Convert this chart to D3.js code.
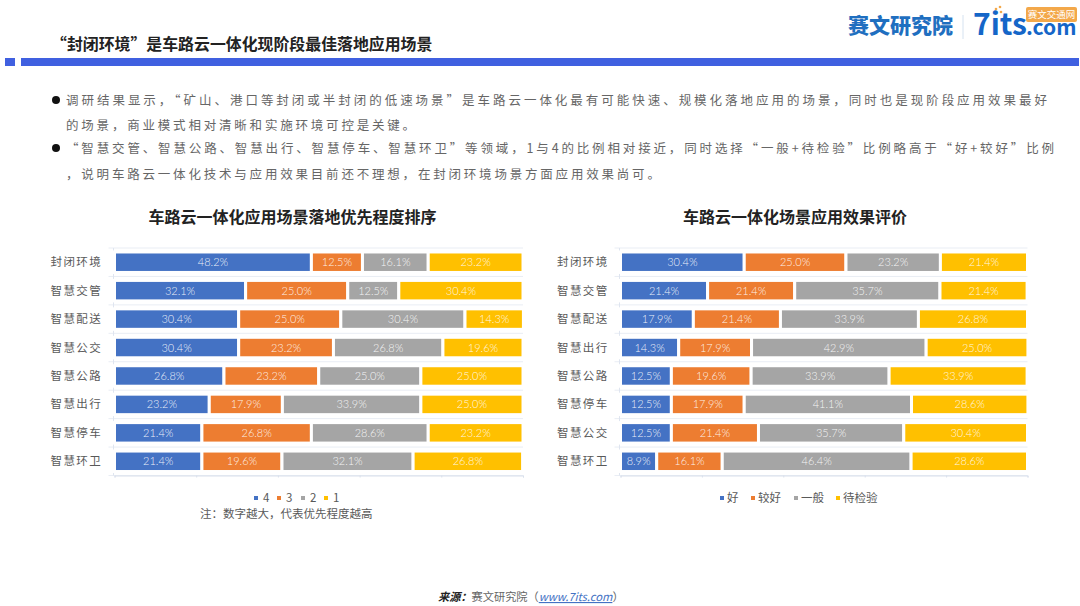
<!DOCTYPE html>
<html>
<head>
<meta charset="utf-8">
<script src="https://cdn.jsdelivr.net/npm/d3@7"></script>
<style>
html,body{margin:0;padding:0;background:#fff;}
svg{display:block;}
text{font-family:"Noto Sans CJK SC","Noto Sans",sans-serif;}
.pct{font-family:Lato,"Open Sans",sans-serif;font-size:11px;font-weight:300;fill:#fff;fill-opacity:.9;text-anchor:middle;}
.cat{font-size:11.5px;fill:#595959;letter-spacing:1.4px;}
.legend{font-size:11.5px;fill:#595959;}
.body{font-size:12.5px;fill:#666;}
.chartTitle{font-size:16px;font-weight:700;fill:#222;text-anchor:middle;}
</style>
</head>
<body>
<svg id="fig" width="1080" height="606"></svg>
<script>
const colors = ["#4472C4","#ED7D31","#A5A5A5","#FFC000"]

// left chart
const leftTitle = "车路云一体化应用场景落地优先程度排序"
const leftCats = ["封闭环境","智慧交管","智慧配送","智慧公交","智慧公路","智慧出行","智慧停车","智慧环卫"]
const leftKeys = ["4","3","2","1"]
const left4 = [48.2,32.1,30.4,30.4,26.8,23.2,21.4,21.4]
const left3 = [12.5,25.0,25.0,23.2,23.2,17.9,26.8,19.6]
const left2 = [16.1,12.5,30.4,26.8,25.0,33.9,28.6,32.1]
const left1 = [23.2,30.4,14.3,19.6,25.0,25.0,23.2,26.8]

// right chart
const rightTitle = "车路云一体化场景应用效果评价"
const rightCats = ["封闭环境","智慧交管","智慧配送","智慧出行","智慧公路","智慧停车","智慧公交","智慧环卫"]
const rightKeys = ["好","较好","一般","待检验"]
const rightGood = [30.4,21.4,17.9,14.3,12.5,12.5,12.5,8.9]
const rightFair = [25.0,21.4,21.4,17.9,19.6,17.9,21.4,16.1]
const rightAvg = [23.2,35.7,33.9,42.9,33.9,41.1,35.7,46.4]
const rightWait = [21.4,21.4,26.8,25.0,33.9,28.6,30.4,28.6]

const bodyLines = [
    "调研结果显示，“矿山、港口等封闭或半封闭的低速场景”是车路云一体化最有可能快速、规模化落地应用的场景，同时也是现阶段应用效果最好",
    "的场景，商业模式相对清晰和实施环境可控是关键。",
    "“智慧交管、智慧公路、智慧出行、智慧停车、智慧环卫”等领域，1与4的比例相对接近，同时选择“一般+待检验”比例略高于“好+较好”比例",
    "，说明车路云一体化技术与应用效果目前还不理想，在封闭环境场景方面应用效果尚可。"
]

const Fig = d3.select("#fig")

// header
Fig.append("text").attr("x",51).attr("y",50)
    .attr("font-size",15.9).attr("font-weight",700).attr("fill","#222")
    .text("“封闭环境”是车路云一体化现阶段最佳落地应用场景")
Fig.append("rect").attr("x",5).attr("y",58).attr("width",10).attr("height",8).attr("fill","#4060E0")
Fig.append("rect").attr("x",21).attr("y",58).attr("width",1058).attr("height",8).attr("fill","#4060E0")

// logo
Fig.append("text").attr("x",848).attr("y",33).attr("font-size",21).attr("font-weight",900).attr("fill","#1F6FC0").text("赛文研究院")
Fig.append("line").attr("x1",963).attr("x2",963).attr("y1",15).attr("y2",39).attr("stroke","#d5e2f0")
Fig.append("text").attr("x",973).attr("y",35).attr("font-family","Liberation Sans").attr("font-size",30).attr("font-weight",700).attr("fill","#1566C8").text("7its")
Fig.append("text").attr("x",1026).attr("y",35).attr("font-family","Liberation Sans").attr("font-size",21).attr("font-weight",700).attr("fill","#1566C8").text(".com")
Fig.append("rect").attr("x",1026).attr("y",7).attr("width",51).attr("height",15).attr("rx",2).attr("fill","#F3A84A")
Fig.append("text").attr("x",1051.5).attr("y",18).attr("text-anchor","middle").attr("font-size",9.5).attr("fill","#fff").text("赛文交通网")
Fig.selectAll(".dot").data([[996,9],[1000,7],[1001,12]]).join("circle")
    .attr("cx",d=>d[0]).attr("cy",d=>d[1]).attr("r",1.3).attr("fill","#F3A84A")

// bullet text
const bodyY = [105,130,153,179]
const bodyLen = [981,null,988,null]
bodyLines.forEach((line,i)=>{
    const t = Fig.append("text").attr("class","body")
        .attr("x",66).attr("y",bodyY[i]).text(line)
    if(bodyLen[i]) t.attr("textLength",bodyLen[i]).attr("lengthAdjust","spacing")
    else t.attr("letter-spacing",2.8)
})
Fig.selectAll(".bullet").data([bodyY[0],bodyY[2]]).join("circle")
    .attr("cx",56).attr("cy",d=>d-5).attr("r",4).attr("fill","#111")

function stacked_bar(title,cats,keys,series,x0,x1,catX,titleX)
{
    const rows = cats.map((c,i)=>{
        const row = {cat:c}
        keys.forEach((k,j)=>{row[k]=series[j][i]})
        return row
    })
    const stacked = d3.stack().keys(keys)(rows)

    const xScale = d3.scaleLinear().domain([0,100]).range([x0,x1])
    const yScale = d3.scaleBand().domain(cats).range([248,475.5]).paddingInner(0.28).paddingOuter(0.14)
    const color = d3.scaleOrdinal().domain(keys).range(colors)
    const step = yScale.step()
    const edges = d3.range(cats.length+1).map(i=>248+i*step)

    Fig.append("text").attr("class","chartTitle").attr("x",titleX).attr("y",223).text(title)

    // faint row lines
    Fig.append("g").selectAll("line").data(edges).join("line")
        .attr("x1",x0-6).attr("x2",x1)
        .attr("y1",d=>d).attr("y2",d=>d)
        .attr("stroke","#e9edf4").attr("stroke-width",1)

    const x_axis = d3.axisBottom(xScale).tickValues([0,20,40,60,80,100]).tickSize(2).tickFormat("")
    Fig.append("g").attr("transform",`translate(0,${475.5})`).call(x_axis)
        .call(g=>g.selectAll("path,line").attr("stroke","#d9e0ec"))
    Fig.append("line").attr("x1",x0-1).attr("x2",x0-1).attr("y1",248).attr("y2",475.5).attr("stroke","#dfe5f0")

    // bars
    const layers = Fig.append("g").selectAll("g").data(stacked).join("g")
        .attr("fill",d=>color(d.key))
    layers.selectAll("rect").data(d=>d).join("rect")
        .attr("x",d=>xScale(d[0]))
        .attr("y",d=>yScale(d.data.cat))
        .attr("width",d=>xScale(d[1])-xScale(d[0]))
        .attr("height",yScale.bandwidth())
        .attr("stroke","#fff").attr("stroke-width",3)
    layers.selectAll("text").data(d=>d).join("text")
        .attr("class","pct")
        .attr("x",d=>(xScale(d[0])+xScale(d[1]))/2)
        .attr("y",d=>yScale(d.data.cat)+yScale.bandwidth()/2+4)
        .text(d=>(d[1]-d[0]).toFixed(1)+"%")

    // category labels
    Fig.append("g").selectAll("text").data(cats).join("text")
        .attr("class","cat")
        .attr("x",catX)
        .attr("y",d=>yScale(d)+yScale.bandwidth()/2+4)
        .text(d=>d)
}

stacked_bar(leftTitle,leftCats,leftKeys,[left4,left3,left2,left1],114.5,523,50.5,292.5)
stacked_bar(rightTitle,rightCats,rightKeys,[rightGood,rightFair,rightAvg,rightWait],620.5,1027.5,557,795)

// legends
function legend(keys,xs,markerGap)
{
    const items = Fig.append("g").selectAll("g").data(keys).join("g")
        .attr("transform",(d,i)=>`translate(${xs[i]},498)`)
    items.append("rect").attr("x",0).attr("y",-2).attr("width",4).attr("height",4)
        .attr("fill",(d,i)=>colors[i])
    items.append("text").attr("class","legend").attr("x",markerGap).attr("y",4).text(d=>d)
}
legend(leftKeys,[254,277,301,324],9)
legend(rightKeys,[720,751,794,836],7)

Fig.append("text").attr("class","legend").attr("x",200).attr("y",518).text("注：数字越大，代表优先程度越高")

// source
const src = Fig.append("text").attr("x",438).attr("y",601).attr("font-size",11.2).attr("fill","#666")
src.append("tspan").attr("font-weight",700).attr("font-style","italic").attr("fill","#222").text("来源：")
src.append("tspan").text("赛文研究院（")
src.append("tspan").attr("font-style","italic").attr("fill","#4472C4").attr("text-decoration","underline").text("www.7its.com")
src.append("tspan").text("）")
</script>
</body>
</html>
